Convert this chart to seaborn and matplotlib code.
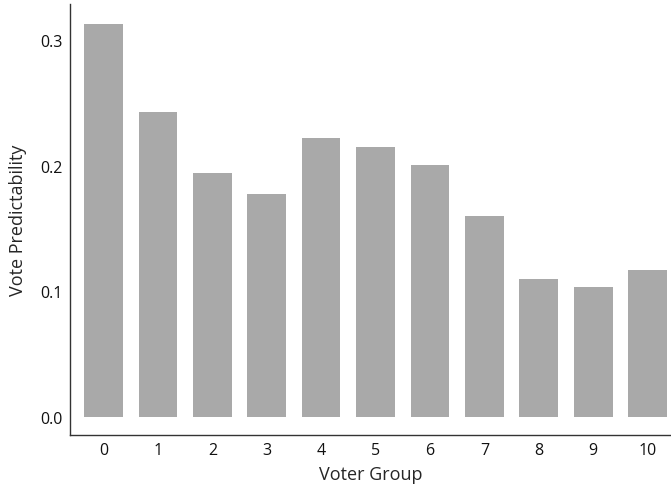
import matplotlib
matplotlib.use("Agg")
import matplotlib.pyplot as plt
import seaborn as sns
import pandas as pd

groups = [0, 1, 2, 3, 4, 5, 6, 7, 8, 9, 10]
predictability = [0.3127, 0.2426, 0.194, 0.1773, 0.2219, 0.2151, 0.2004, 0.1598, 0.1096, 0.1032, 0.1167]
yticks = [0.0, 0.1, 0.2, 0.3]

sns.set_style("white")
plt.rcParams['font.family'] = ['Open Sans', 'DejaVu Sans']

df = pd.DataFrame({"Voter Group": groups, "Vote Predictability": predictability})

fig = plt.figure(figsize=(6.71, 4.89), dpi=100)
ax = fig.add_axes([0.1043, 0.1084, 0.8957, 0.8814])
sns.barplot(data=df, x="Voter Group", y="Vote Predictability", color="#a9a9a9",
            saturation=1, width=0.71, linewidth=0, ax=ax)

ax.set_xlim(-0.616, 10.43)
ax.set_ylim(-0.0147, 0.3287)
ax.set_yticks(yticks)
ax.set_yticklabels([f"{v:.1f}" for v in yticks])
ax.tick_params(axis='both', length=0, labelsize=11.5, labelcolor="#111111", pad=5)
ax.set_xlabel("Voter Group", fontsize=13, labelpad=5)
ax.set_ylabel("Vote Predictability", fontsize=13, labelpad=10)
sns.despine(ax=ax)
for s in ["left", "bottom"]:
    ax.spines[s].set_color("#333333")
    ax.spines[s].set_linewidth(1.0)

fig.savefig("out.png", dpi=100)
